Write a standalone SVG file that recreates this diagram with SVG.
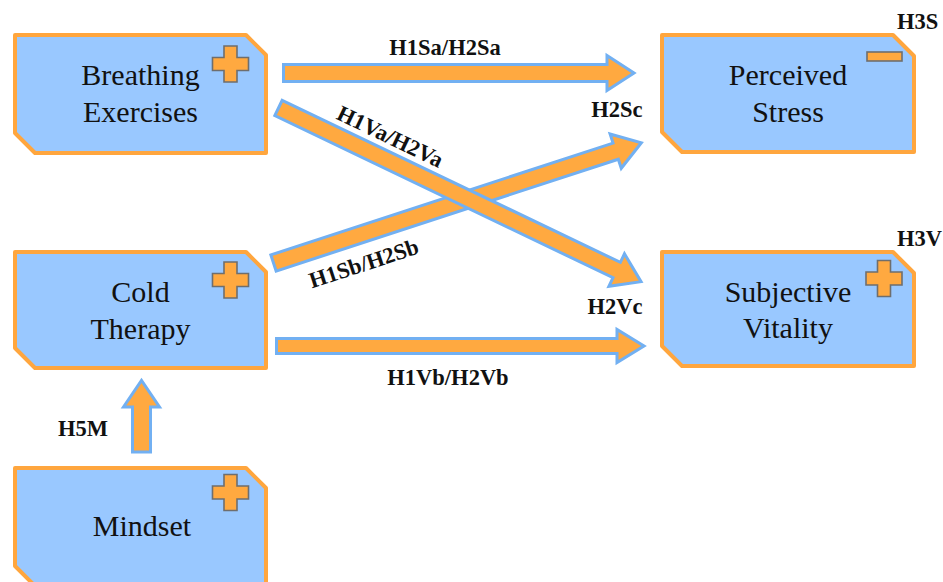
<svg xmlns="http://www.w3.org/2000/svg" width="943" height="582" viewBox="0 0 943 582">
<defs>
<style>
.node{fill:#99C8FF;stroke:#FFA63E;stroke-width:4;stroke-linejoin:round}
.lbl{font-family:'Liberation Serif','Times New Roman','DejaVu Serif',serif;font-weight:normal;font-size:30px;fill:#111;text-anchor:middle}
.hyp{font-family:'Liberation Serif','Times New Roman','DejaVu Serif',serif;font-size:22.5px;font-weight:bold;fill:#111}
.arr{fill:#FFA940;stroke:#72B0F2;stroke-width:3;stroke-linejoin:miter}
.sign{fill:#FFA940;stroke:#6E6E6E;stroke-width:1.6}
</style>
<path id="plus" class="sign" d="M-6.5,-18H6.5V-6.5H18V6.5H6.5V18H-6.5V6.5H-18V-6.5H-6.5Z"/>
</defs>
<rect width="943" height="582" fill="#fff"/>

<g id="connectors">
  <path class="arr" d="M283.5,64.5H607V55.5L634,73L607,90.5V81.5H283.5Z"/>
  <path class="arr" d="M276.5,338.5H617V329.5L644,346L617,362.5V353.5H276.5Z"/>
  <path class="arr" d="M132.5,452V407H123.5L141.5,380.5L159.5,407H150.5V452Z"/>
  <g transform="translate(273.5,263) rotate(-18.1)">
    <path class="arr" d="M0,-8.5H360V-18L387,0L360,18V8.5H0Z"/>
  </g>
  <g transform="translate(278.5,108) rotate(25.6)">
    <path class="arr" d="M0,-8.5H375V-18L402,0L375,18V8.5H0Z"/>
  </g>
  <text class="hyp" x="445" y="55" text-anchor="middle">H1Sa/H2Sa</text>
  <text class="hyp" x="448" y="385" text-anchor="middle">H1Vb/H2Vb</text>
  <text class="hyp" x="617" y="117" text-anchor="middle">H2Sc</text>
  <text class="hyp" x="615" y="314" text-anchor="middle">H2Vc</text>
  <text class="hyp" x="58" y="436">H5M</text>
  <text class="hyp" transform="translate(390,137) rotate(25.6)" x="0" y="7" text-anchor="middle">H1Va/H2Va</text>
  <text class="hyp" transform="translate(364,264) rotate(-18.1)" x="0" y="7" text-anchor="middle">H1Sb/H2Sb</text>
</g>

<g id="breathing">
  <path class="node" d="M15,35H246L266,55V153H35L15,133Z"/>
  <use href="#plus" x="230.5" y="64"/>
  <text class="lbl" x="140.5" y="85">Breathing</text>
  <text class="lbl" x="140.5" y="122">Exercises</text>
</g>

<g id="cold">
  <path class="node" d="M15,252H246L266,272V368H35L15,348Z"/>
  <use href="#plus" x="230.5" y="280"/>
  <text class="lbl" x="140.5" y="302">Cold</text>
  <text class="lbl" x="140.5" y="339">Therapy</text>
</g>

<g id="mindset">
  <path class="node" d="M15,468H246L266,488V586H35L15,566Z"/>
  <use href="#plus" x="230.5" y="492.5"/>
  <text class="lbl" x="142" y="536">Mindset</text>
</g>

<g id="stress">
  <path class="node" d="M662,35H893L914,56V152H682L662,132Z"/>
  <rect class="sign" x="867" y="52" width="35" height="9"/>
  <text class="lbl" x="788" y="85">Perceived</text>
  <text class="lbl" x="788" y="122">Stress</text>
  <text class="hyp" x="897" y="29">H3S</text>
</g>

<g id="vitality">
  <path class="node" d="M662,252H893L914,273V366H682L662,346Z"/>
  <use href="#plus" x="884" y="278.5"/>
  <text class="lbl" x="788" y="302">Subjective</text>
  <text class="lbl" x="788" y="338">Vitality</text>
  <text class="hyp" x="897" y="246">H3V</text>
</g>
</svg>
